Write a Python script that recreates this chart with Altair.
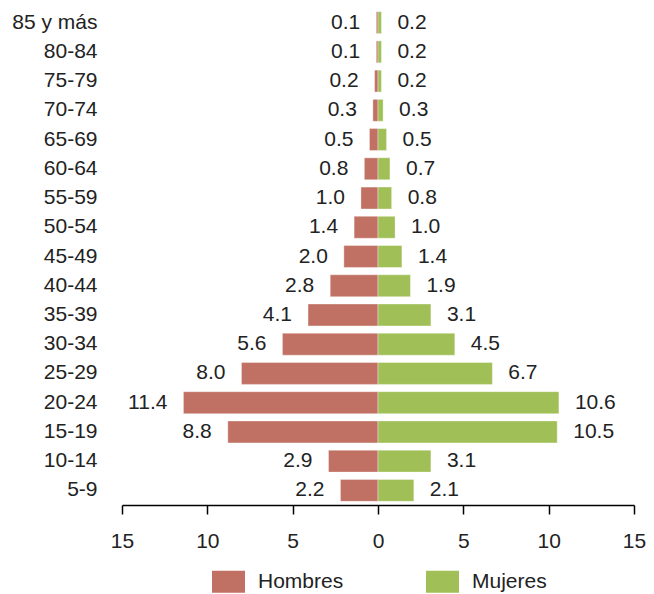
import altair as alt
import pandas as pd

ages = ["85 y más", "80-84", "75-79", "70-74", "65-69", "60-64", "55-59", "50-54",
        "45-49", "40-44", "35-39", "30-34", "25-29", "20-24", "15-19", "10-14", "5-9"]
hombres = [0.1, 0.1, 0.2, 0.3, 0.5, 0.8, 1.0, 1.4, 2.0, 2.8, 4.1, 5.6, 8.0, 11.4, 8.8, 2.9, 2.2]
mujeres = [0.2, 0.2, 0.2, 0.3, 0.5, 0.7, 0.8, 1.0, 1.4, 1.9, 3.1, 4.5, 6.7, 10.6, 10.5, 3.1, 2.1]
series = ["Hombres", "Mujeres"]
colors = ["#C07163", "#A0BF56"]
ticks = [-15, -10, -5, 0, 5, 10, 15]

rows = []
for a, h, m in zip(ages, hombres, mujeres):
    rows.append({"edad": a, "sexo": "Hombres", "valor": -h, "abs": h})
    rows.append({"edad": a, "sexo": "Mujeres", "valor": m, "abs": m})
df = pd.DataFrame(rows)

FONT = "Liberation Sans"
TXT = "#222222"
FS = 21

y_enc = alt.Y("edad:N", sort=ages, title=None,
              scale=alt.Scale(paddingInner=0.25, paddingOuter=0.125),
              axis=alt.Axis(domain=False, ticks=False, labelFontSize=FS, labelFont=FONT,
                            labelColor=TXT, labelPadding=25, labelAlign="right"))
x_enc = alt.X("valor:Q", title=None,
              scale=alt.Scale(domain=[-15, 15], nice=False),
              axis=alt.Axis(values=ticks, labelExpr="abs(datum.value)", grid=False,
                            labelFlush=False,
                            domainColor="black", domainWidth=1.5, tickColor="black",
                            tickWidth=1.5, tickSize=9, labelFontSize=FS, labelFont=FONT,
                            labelColor=TXT, labelPadding=16))

base = alt.Chart(df)

bars = base.mark_bar(stroke="white", strokeWidth=0.6, strokeOpacity=0.6).encode(
    x=x_enc, y=y_enc,
    color=alt.Color("sexo:N", scale=alt.Scale(domain=series, range=colors),
                    legend=alt.Legend(orient="none", legendX=90, legendY=557,
                                      direction="horizontal", title=None,
                                      symbolType="M-1,-0.667H1V0.667H-1Z",
                                      symbolSize=1089, symbolStrokeWidth=0,
                                      labelFontSize=FS, labelFont=FONT, labelColor=TXT,
                                      labelOffset=13, columnPadding=82, padding=0,
                                      symbolOpacity=1)),
)

left = base.transform_filter(alt.datum.sexo == "Hombres").mark_text(
    align="right", baseline="middle", dx=-16, fontSize=FS, font=FONT, color=TXT
).encode(x="valor:Q", y=alt.Y("edad:N", sort=ages), text=alt.Text("abs:Q", format=".1f"))

right = base.transform_filter(alt.datum.sexo == "Mujeres").mark_text(
    align="left", baseline="middle", dx=16, fontSize=FS, font=FONT, color=TXT
).encode(x="valor:Q", y=alt.Y("edad:N", sort=ages), text=alt.Text("abs:Q", format=".1f"))

chart = alt.layer(bars, left, right).properties(
    width=512, height=497,
    autosize=alt.AutoSizeParams(type="none"),
    padding={"left": 114, "top": 0, "right": 12, "bottom": 88},
).configure_view(stroke=None)

chart.save("out.html", embed_options={"renderer": "svg", "actions": False})
